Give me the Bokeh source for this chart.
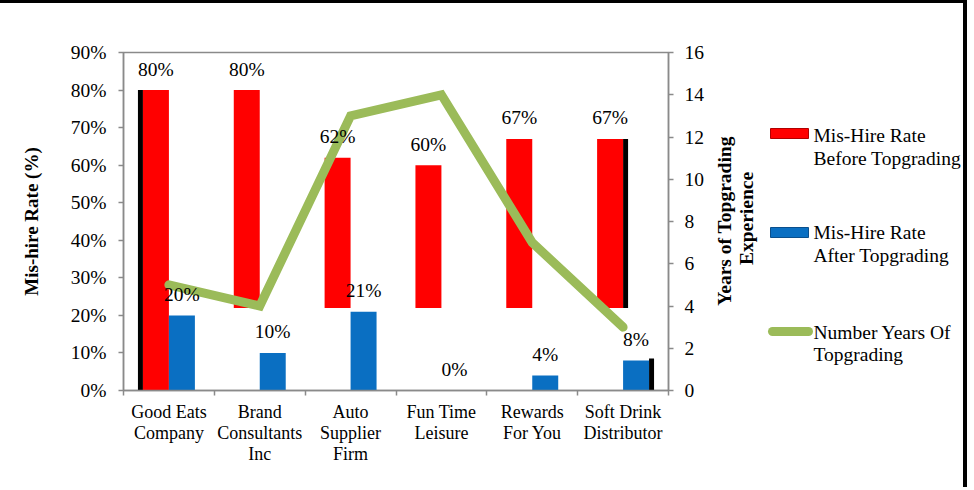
import math
from bokeh.plotting import figure
from bokeh.layouts import row
from bokeh.models import (Range1d, LinearAxis, FixedTicker, NumeralTickFormatter, Label)
from bokeh.core.properties import value
from bokeh.embed import file_html
from bokeh.resources import INLINE

# ---- data ----
categories = ["Good Eats\nCompany", "Brand\nConsultants\nInc", "Auto\nSupplier\nFirm",
              "Fun Time\nLeisure", "Rewards\nFor You", "Soft Drink\nDistributor"]
before = [0.80, 0.80, 0.62, 0.60, 0.67, 0.67]
after = [0.20, 0.10, 0.21, 0.00, 0.04, 0.08]
years = [5, 4, 13, 14, 7, 3]
before_labels = ["80%", "80%", "62%", "60%", "67%", "67%"]
after_labels = ["20%", "10%", "21%", "0%", "4%", "8%"]
pct_ticks = [0.0, 0.1, 0.2, 0.3, 0.4, 0.5, 0.6, 0.7, 0.8, 0.9]
year_ticks = [0, 2, 4, 6, 8, 10, 12, 14, 16]
right_title = "Years  of Topgrading\nExperience"
series_names = ["Mis-Hire Rate\nBefore Topgrading", "Mis-Hire Rate\nAfter Topgrading",
                "Number Years Of\nTopgrading"]

FONT = "Liberation Serif"
GRAY = "#8a8a8a"
RED = "#ff0000"
BLUE = "#0a6fc2"
GREEN = "#9bbb59"

n = len(categories)
centers = [i + 0.5 for i in range(n)]
bw = 0.286
red_x = [c - bw / 2 for c in centers]
blue_x = [c + bw / 2 for c in centers]
# the reference's 3D rendering hides the lower part of all but the first red bar
red_bottom = [0.0] + [0.22] * (n - 1)

# ---------------- main chart ----------------
p = figure(width=710, height=487, output_backend="svg", toolbar_location=None,
           x_range=Range1d(0, n), y_range=Range1d(0, 0.9),
           min_border_left=123, min_border_right=42, min_border_top=49,
           min_border_bottom=100)
p.styles = {"border-top": "3px solid black"}
p.background_fill_color = "white"
p.border_fill_color = "white"
p.outline_line_color = GRAY
p.outline_line_width = 1.5
p.xgrid.visible = False
p.ygrid.visible = False
p.extra_y_ranges = {"yrs": Range1d(0, 16)}

ya = p.yaxis[0]
ya.ticker = FixedTicker(ticks=pct_ticks)
ya.formatter = NumeralTickFormatter(format="0%")
ya.axis_label = "Mis-hire Rate (%)"

xa = p.xaxis[0]
xa.ticker = FixedTicker(ticks=centers, minor_ticks=list(range(n + 1)))
xa.major_label_overrides = {c: lab for c, lab in zip(centers, categories)}
xa.major_tick_out = 0
xa.major_tick_in = 0
xa.minor_tick_out = 5
xa.minor_tick_in = 0
xa.major_label_standoff = 6

ra = LinearAxis(y_range_name="yrs", ticker=FixedTicker(ticks=year_ticks))
p.add_layout(ra, "right")

for ax in (ya, ra, xa):
    ax.axis_line_color = GRAY
    ax.axis_line_width = 1.5
    ax.major_tick_line_color = GRAY
    ax.minor_tick_line_color = GRAY
    ax.major_tick_line_width = 1.5
    ax.minor_tick_line_width = 1.5
    ax.major_label_text_font = FONT
    ax.major_label_text_font_size = "19.5px"
    ax.major_label_text_color = "black"
    ax.axis_label_text_font = FONT
    ax.axis_label_text_font_size = "19px"
    ax.axis_label_text_font_style = "bold"
    ax.axis_label_text_color = "black"
for ax in (ya, ra):
    ax.major_tick_out = 5
    ax.major_tick_in = 0
    ax.minor_tick_out = 0
    ax.minor_tick_in = 0
ya.major_label_standoff = 12
ya.axis_label_standoff = 26
ra.major_label_standoff = 11
xa.major_label_text_font_size = "18px"
xa.major_label_text_line_height = 1.05

# shadow strips of the 3D rendering
p.vbar(x=[red_x[0] - bw / 2 - 0.0275], top=[before[0]], bottom=[0], width=0.055,
       fill_color="black", line_color=None)
p.vbar(x=[red_x[-1] + bw / 2 + 0.0275], top=[before[-1]], bottom=[red_bottom[-1]],
       width=0.055, fill_color="black", line_color=None)
p.vbar(x=[blue_x[-1] + bw / 2 + 0.0275], top=[after[-1] + 0.005], bottom=[0], width=0.055,
       fill_color="black", line_color=None)

p.vbar(x=red_x, top=before, bottom=red_bottom, width=bw, fill_color=RED, line_color=None)
p.vbar(x=blue_x, top=after, bottom=0, width=bw, fill_color=BLUE, line_color=None)
p.line(x=centers, y=years, y_range_name="yrs", line_color=GREEN,
       line_width=9, line_cap="round", line_join="miter")

p.text(x=red_x, y=before, text=before_labels, text_font=value(FONT),
       text_font_size="19.5px", text_align="center", text_baseline="middle",
       y_offset=-21, text_color="black")
p.text(x=blue_x, y=after, text=after_labels, text_font=value(FONT),
       text_font_size="19.5px", text_align="center", text_baseline="middle",
       y_offset=-21, text_color="black")

# ---------------- side panel: right-axis title and legend (pixel space) ----------------
# the row aligns this panel's frame with the main frame (338 px tall)
SW, SH, FH = 257, 487, 338
q = figure(width=SW, height=SH, output_backend="svg", toolbar_location=None, title=None,
           x_range=Range1d(0, SW), y_range=Range1d(0, FH),
           x_axis_location=None, y_axis_location=None, min_border=0)
q.styles = {"border-top": "3px solid black", "border-right": "4px solid black"}
q.background_fill_color = "white"
q.border_fill_color = "white"
q.outline_line_color = None
q.xgrid.visible = False
q.ygrid.visible = False

q.add_layout(Label(x=25, y=172, text=right_title, angle=math.pi / 2,
                   text_align="center", text_baseline="middle",
                   text_font=FONT, text_font_size="19.5px", text_font_style="bold",
                   text_color="black", text_line_height=1.03))

# legend swatches and entries
q.rect(x=[79, 79], y=[257, 158], width=38, height=10,
       fill_color=[RED, BLUE], line_color=["#b00000", "#0a4f8c"], line_width=1)
q.line(x=[62, 98], y=[59, 59], line_color=GREEN, line_width=9, line_cap="round")
q.text(x=[103, 103, 103], y=[243.5, 146.5, 47], text=series_names,
       text_font=value(FONT), text_font_size="19.5px", text_align="left",
       text_baseline="middle", text_color="black", text_line_height=1.09)

layout = row(p, q)
open("out.html", "w").write(file_html(layout, INLINE))
